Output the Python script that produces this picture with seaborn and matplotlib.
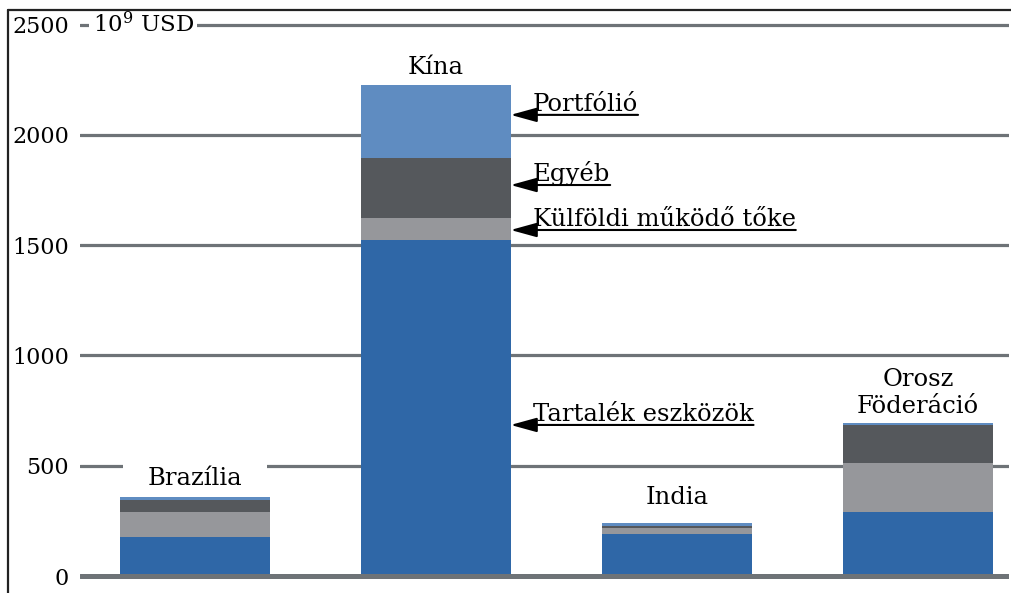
import matplotlib
matplotlib.use('Agg')
import matplotlib.pyplot as plt
from matplotlib.lines import Line2D
import seaborn as sns
import pandas as pd
import numpy as np

# data (10^9 USD)
countries = ['Brazília', 'Kína', 'India', 'Orosz\nFöderáció']
tartalek = [177, 1524, 192, 292]
kulfoldi = [113, 100, 28, 222]
egyeb = [55, 272, 5, 169]
portfolio = [13, 331, 15, 12]
yticks = [0, 500, 1000, 1500, 2000, 2500]

layers = ['Tartalék eszközök', 'Külföldi működő tőke', 'Egyéb', 'Portfólió']
colors = ['#2F67A7', '#96979B', '#55585C', '#5F8CC1']

df = pd.DataFrame({'country': countries, 'Tartalék eszközök': tartalek,
                   'Külföldi működő tőke': kulfoldi, 'Egyéb': egyeb,
                   'Portfólió': portfolio})
cum = df[layers].cumsum(axis=1)

sns.set_style('white')
plt.rcParams['font.family'] = ['DejaVu Serif']
plt.rcParams['mathtext.fontset'] = 'dejavuserif'
plt.rcParams['text.color'] = 'black'
plt.rcParams['ytick.color'] = 'black'

fig = plt.figure(figsize=(10.12, 5.93), dpi=100)
ax = fig.add_axes([80 / 1012, 0, 929 / 1012, 582 / 593])

# stacked bars: draw cumulative totals from the top layer down
for layer, col in zip(layers[::-1], colors[::-1]):
    sns.barplot(x=df['country'], y=cum[layer], color=col, width=0.62,
                saturation=1, ax=ax, zorder=2, linewidth=0, edgecolor='none')

grid_col = '#6E7377'
for t in yticks:
    ax.axhline(t, color=grid_col, lw=3.6 if t == 0 else 2.3, zorder=0.2 if t else 3)

ax.set_xlim(-0.477, 3.378)
ax.set_ylim(-77, 2562)
ax.set_yticks(yticks)
ax.set_yticklabels([str(t) for t in yticks], fontsize=16, color='black')
ax.tick_params(axis='y', length=0, pad=8)
ax.set_xticks([])
ax.set_xlabel('')
ax.set_ylabel('')
for s in ax.spines.values():
    s.set_visible(False)

box = dict(facecolor='white', edgecolor='none', boxstyle='square,pad=0.15')
ax.text(-0.425, 2500, '10$^9$ USD', fontsize=16.5, ha='left', va='center',
        bbox=box, zorder=1)

# country labels
lab_y = [444, 2304, 358, 830]
for i, (c, y) in enumerate(zip(countries, lab_y)):
    b = dict(facecolor='white', edgecolor='none', boxstyle='square,pad=0.15')
    if i == 0:
        b['boxstyle'] = 'square,pad=1.0'
    ax.text(i, y, c, fontsize=17.5, ha='center', va='center',
            linespacing=1.2, bbox=b, zorder=1)

# arrow annotations on the Kína bar
edge = 1 + 0.31
ann_y = [685, 1569, 1773, 2091]
texts = []
for lab, y in zip(layers, ann_y):
    t = ax.text(1.402, y + 18, lab, fontsize=17.5, ha='left', va='baseline', zorder=5)
    texts.append((t, y))

fig.canvas.draw()
inv = ax.transData.inverted()
for t, y in texts:
    bb = t.get_window_extent()
    x_end = inv.transform((bb.x1, 0))[0]
    ax.annotate('', xy=(edge, y), xytext=(x_end, y),
                arrowprops=dict(arrowstyle='-|>,head_length=0.8,head_width=0.22',
                                color='black', lw=1.5, mutation_scale=20,
                                shrinkA=0, shrinkB=0), zorder=5)

# frame lines of the figure
fig.add_artist(Line2D([8 / 1012, 8 / 1012], [0, 1 - 10 / 593], color='#222222', lw=1.6))
fig.add_artist(Line2D([8 / 1012, 1], [1 - 10 / 593, 1 - 10 / 593], color='#222222', lw=1.6))

fig.savefig('out.png', dpi=100, facecolor='white')
